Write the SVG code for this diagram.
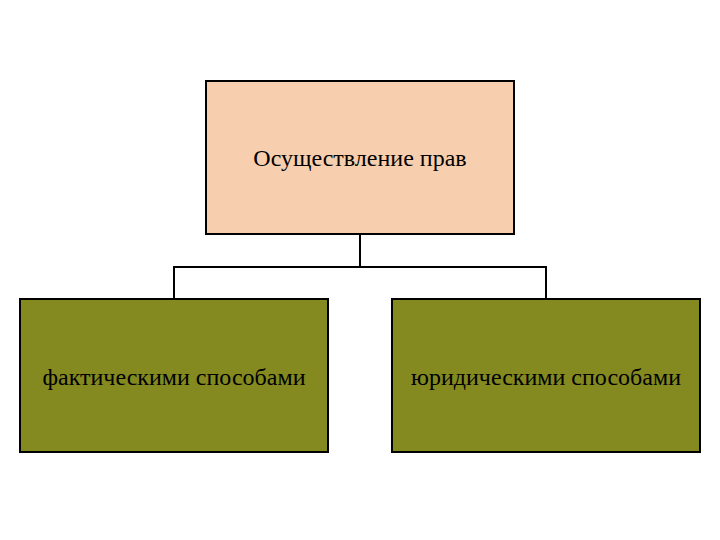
<svg xmlns="http://www.w3.org/2000/svg" width="720" height="540" viewBox="0 0 720 540">
<style>
.box{stroke:#000;stroke-width:2}
.top{fill:#F8CFAE}
.low{fill:#848A1F}
.lbl{font-family:"Liberation Serif","Times New Roman",serif;font-size:24px;fill:#000;text-anchor:middle}
.conn{fill:none;stroke:#000;stroke-width:2}
</style>
<rect width="720" height="540" fill="#fff"/>
<g id="connectors">
<path class="conn" d="M360,234 V267 M174,299 V267 H546 V299"/>
</g>
<g id="root">
<rect class="box top" x="206" y="81" width="308" height="153"/>
<text class="lbl" x="360" y="166">Осуществление прав</text>
</g>
<g id="fact">
<rect class="box low" x="20" y="299" width="308" height="153"/>
<text class="lbl" x="174" y="385">фактическими способами</text>
</g>
<g id="jur">
<rect class="box low" x="392" y="299" width="308" height="153"/>
<text class="lbl" x="546" y="385">юридическими способами</text>
</g>
</svg>
